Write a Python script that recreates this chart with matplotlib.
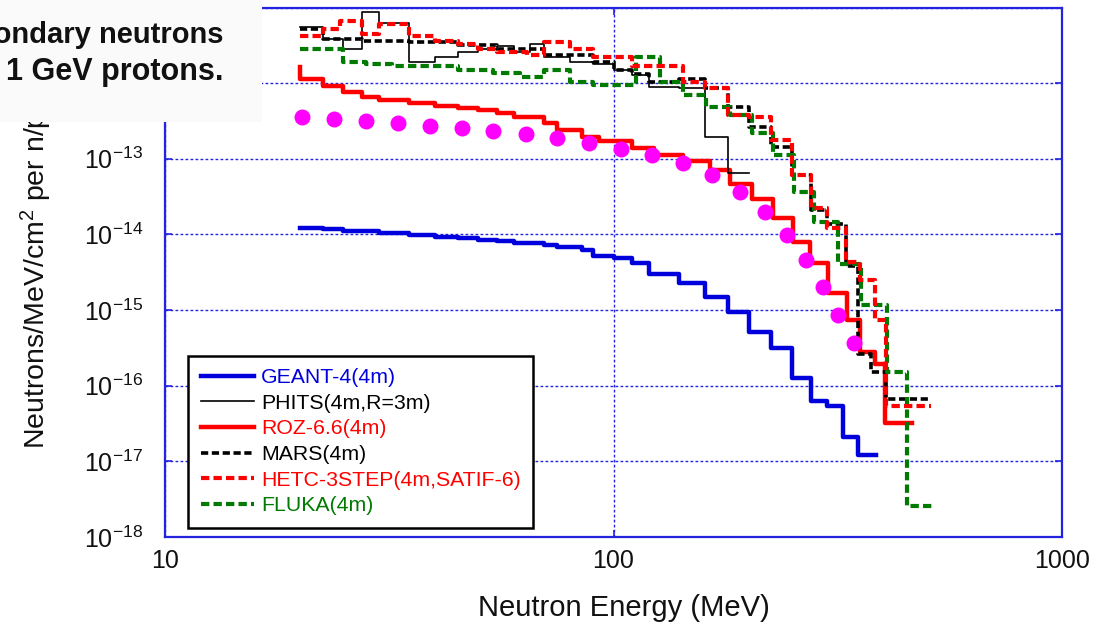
import numpy as np
import matplotlib
matplotlib.use("Agg")
import matplotlib.pyplot as plt
from matplotlib.patches import Rectangle

plt.rcParams["font.family"] = ["Liberation Sans", "DejaVu Sans"]
plt.rcParams["mathtext.fontset"] = "custom"
plt.rcParams["mathtext.rm"] = "Liberation Sans"
plt.rcParams["mathtext.it"] = "Liberation Sans:italic"
plt.rcParams["mathtext.default"] = "regular"
plt.rcParams["axes.unicode_minus"] = False

# ---- data (bin edges in MeV, values in neutrons/MeV/cm^2 per n) ----
geant_edges = [20, 22.5, 25, 30, 35, 40, 45, 50, 55, 60, 70, 75, 85, 90, 100, 110,
               120, 140, 160, 180, 200, 225, 250, 275, 300, 325, 350, 385]
geant_vals = [1.22e-14, 1.18e-14, 1.11e-14, 1.04e-14, 9.8e-15, 9.2e-15, 8.96e-15,
              8.43e-15, 8.17e-15, 7.69e-15, 7.23e-15, 6.8e-15, 6.2e-15, 5.17e-15,
              4.87e-15, 4.18e-15, 2.99e-15, 2.27e-15, 1.48e-15, 9.35e-16, 5.08e-16,
              3.11e-16, 1.25e-16, 6.2e-17, 5.46e-17, 2.12e-17, 1.22e-17]

phits_edges = [20, 22.5, 25, 27.5, 30, 35, 40, 45, 50, 55, 60, 65, 70, 80, 90, 100,
               110, 120, 140, 160, 180, 200]
phits_vals = [5.46e-12, 3.79e-12, 2.79e-12, 8.63e-12, 6.17e-12, 1.93e-12, 2.19e-12,
              2.55e-12, 2.79e-12, 3.06e-12, 2.55e-12, 3.25e-12, 2.19e-12, 1.93e-12,
              1.77e-12, 1.51e-12, 1.30e-12, 9.0e-13, 8.74e-13, 1.96e-13, 6.52e-14]

roz_first = 1.61e-12
roz_edges = [20, 22.5, 25, 27.5, 30, 35, 40, 45, 50, 55, 60, 70, 75, 85, 93, 110,
             123, 143, 164, 182, 204, 227, 251, 274, 301, 332, 354, 383, 403, 463]
roz_vals = [1.12e-12, 9.3e-13, 7.7e-13, 6.6e-13, 6.06e-13, 5.53e-13, 5.05e-13,
            4.75e-13, 4.47e-13, 4.07e-13, 3.61e-13, 3.00e-13, 2.43e-13, 1.96e-13,
            1.73e-13, 1.40e-13, 1.13e-13, 9.4e-14, 7.15e-14, 4.66e-14, 2.95e-14,
            1.65e-14, 7.9e-15, 4.18e-15, 1.67e-15, 7.3e-16, 2.75e-16, 1.91e-16, 3.25e-17]

mars_edges = [20, 22.5, 27.5, 35, 45, 55, 70, 90, 100, 110, 120, 140, 160, 180, 200,
              225, 250, 275, 300, 330, 350, 375, 405, 510]
mars_vals = [5.14e-12, 3.79e-12, 3.56e-12, 3.45e-12, 3.15e-12, 2.79e-12, 2.39e-12,
             1.88e-12, 1.51e-12, 1.34e-12, 1.05e-12, 1.12e-12, 8.74e-13, 4.9e-13,
             2.66e-13, 1.44e-13, 6.13e-14, 2.11e-14, 1.37e-14, 3.81e-15, 2.6e-16,
             1.5e-16, 6.76e-17]

hetc_edges = [20, 22.5, 24.5, 27.5, 30, 35, 40, 45, 50, 55, 64, 70, 80, 90, 110, 143,
              160, 180, 200, 225, 250, 275, 300, 330, 355, 383, 405, 510]
hetc_vals = [4.15e-12, 5.14e-12, 6.56e-12, 4.4e-12, 6.0e-12, 4.15e-12, 3.56e-12,
             3.25e-12, 2.79e-12, 2.55e-12, 2.39e-12, 3.45e-12, 2.79e-12, 2.19e-12,
             1.71e-12, 1.05e-12, 8.74e-13, 3.83e-13, 3.61e-13, 1.79e-13, 6.13e-14,
             2.24e-14, 1.22e-14, 4.3e-15, 2.49e-15, 7.3e-16, 5.46e-17]

fluka_edges = [20, 25, 28, 32, 45, 54, 62, 70, 80, 90, 112, 127, 143, 161, 182, 204,
               227, 253, 280, 316, 357, 407, 452, 513]
fluka_vals = [2.79e-12, 1.93e-12, 1.77e-12, 1.66e-12, 1.51e-12, 1.38e-12, 1.19e-12,
              1.51e-12, 1.02e-12, 9.58e-13, 2.19e-12, 1.05e-12, 7.06e-13, 4.9e-13,
              3.83e-13, 2.21e-13, 1.13e-13, 3.65e-14, 1.46e-14, 4.05e-15, 1.16e-15,
              1.54e-16, 2.58e-18]

dots_e = [20.2, 23.8, 28.1, 33.1, 39, 45.9, 53.9, 63.8, 74.8, 88.2, 104, 122, 143,
          166, 191, 218, 244, 269, 293, 317, 344]
dots_v = [3.61e-13, 3.39e-13, 3.19e-13, 3.00e-13, 2.74e-13, 2.58e-13, 2.35e-13,
          2.15e-13, 1.90e-13, 1.63e-13, 1.36e-13, 1.13e-13, 8.85e-14, 6.13e-14,
          3.65e-14, 1.98e-14, 9.8e-15, 4.57e-15, 2.0e-15, 8.5e-16, 3.63e-16]

labels = ["GEANT-4(4m)", "PHITS(4m,R=3m)", "ROZ-6.6(4m)", "MARS(4m)",
          "HETC-3STEP(4m,SATIF-6)", "FLUKA(4m)"]

BLUE = "#0000dd"
RED = "#ff0000"
GREEN = "#007a00"
FRAME = "#2424e0"


def stairs(ax, edges, vals, **kw):
    x = list(edges)
    y = list(vals) + [vals[-1]]
    return ax.step(x, y, where="post", **kw)[0]


W, H = 1117, 628
fig = plt.figure(figsize=(W / 100, H / 100), dpi=100)
ax = fig.add_axes([165 / W, 1 - 537 / H, (1062 - 165) / W, (537 - 7.5) / H])
ax.set_xscale("log")
ax.set_yscale("log")
ax.set_xlim(10, 1000)
ax.set_ylim(1e-18, 1e-11)

dash = (0, (2.0, 1.0))
h_geant = stairs(ax, geant_edges, geant_vals, color=BLUE, lw=3.2, zorder=3)
h_phits = stairs(ax, phits_edges, phits_vals, color="black", lw=1.2, zorder=4)
h_roz = ax.step([20] + roz_edges, [roz_first] + roz_vals + [roz_vals[-1]],
                where="post", color=RED, lw=3.2, zorder=3)[0]
h_mars = stairs(ax, mars_edges, mars_vals, color="black", lw=2.6, ls=dash, zorder=4)
h_hetc = stairs(ax, hetc_edges, hetc_vals, color=RED, lw=3.0, ls=dash, zorder=5)
h_fluka = stairs(ax, fluka_edges, fluka_vals, color=GREEN, lw=3.0, ls=dash, zorder=4)
ax.plot(dots_e, dots_v, "o", color="#ff00ff", ms=11.5, mec="none", zorder=6)

# axes styling
ax.set_xticks([10, 100, 1000])
ax.set_xticklabels(["10", "100", "1000"])
yt = list(range(-18, -10))
ax.set_yticks([10.0 ** k for k in yt])
# the two top labels sit under the title box in the original
ax.set_yticklabels([f"$10^{{{k}}}$" if k <= -13 else "" for k in yt])
ax.minorticks_off()
ax.tick_params(which="both", direction="in", top=True, right=True, length=5,
               width=1.2, color=FRAME, labelcolor="#111111", labelsize=18)
ax.tick_params(axis="x", pad=9)
ax.tick_params(axis="y", pad=16)
for s in ax.spines.values():
    s.set_color(FRAME)
    s.set_linewidth(1.6)
ax.grid(True, which="major", color=FRAME, lw=1.0, ls=(0, (2.0, 1.6)))

ax.set_xlabel("Neutron Energy (MeV)", fontsize=21, color="#111111")
ax.xaxis.set_label_coords(0.512, -0.108)

leg = ax.legend([h_geant, h_phits, h_roz, h_mars, h_hetc, h_fluka], labels,
                loc="lower left", bbox_to_anchor=(188 / W, 1 - 528 / H),
                bbox_transform=fig.transFigure, borderaxespad=0,
                fontsize=15.3, labelcolor="linecolor", handlelength=2.5,
                handletextpad=0.33, labelspacing=0.31, borderpad=0.6,
                fancybox=False, framealpha=1, edgecolor="black")
leg.get_frame().set_linewidth(1.8)

# y label (its top end runs under the title box)
fig.text(36 / W, 1 - 449 / H, "Neutrons/MeV/cm$^2$ per n/p", rotation=90,
         ha="center", va="bottom", fontsize=20.5, color="#111111", zorder=3)

# title box in the upper-left corner
fig.add_artist(Rectangle((0, 1 - 122 / H), 262 / W, 122 / H, transform=fig.transFigure,
                         facecolor="#fafafa", edgecolor="none", zorder=10))
fig.text(223 / W, 1 - 35 / H, "Secondary neutrons", ha="right", va="center",
         fontsize=21, fontweight="bold", color="#111111", zorder=11)
fig.text(223 / W, 1 - 72 / H, "1 GeV protons.", ha="right", va="center",
         fontsize=22, fontweight="bold", color="#111111", zorder=11)

fig.savefig("out.png", dpi=100)
